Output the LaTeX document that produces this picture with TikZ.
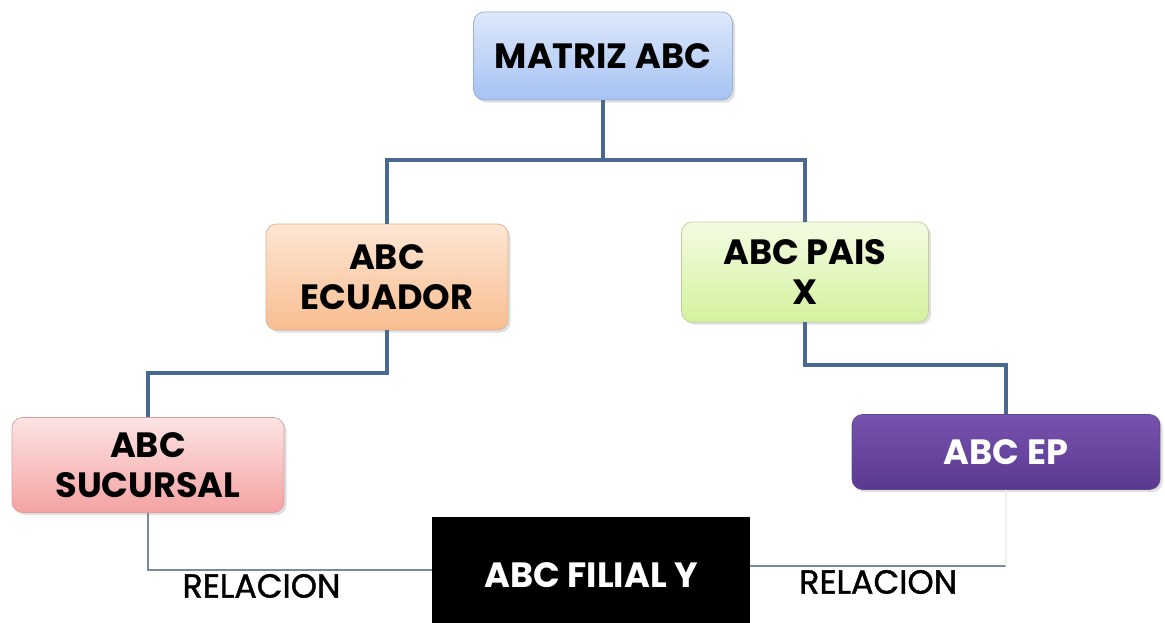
\documentclass[tikz,border=0pt]{standalone}
\usepackage{fontspec}
\setmainfont{Poppins}
\newfontfamily\relfont{Poppins}[FakeBold=1.2]
\usepackage{tikz}
\usetikzlibrary{positioning,shadows}
\definecolor{linkblue}{HTML}{4A6990}
\definecolor{relgray}{HTML}{7A8A99}
\definecolor{matriztop}{HTML}{DDE8FB}
\definecolor{matrizbot}{HTML}{A6C2F3}
\definecolor{ecuatop}{HTML}{FDE6D4}
\definecolor{ecuabot}{HTML}{F8BD90}
\definecolor{paistop}{HTML}{F3FBE2}
\definecolor{paisbot}{HTML}{D4F29E}
\definecolor{sucutop}{HTML}{FDE4E4}
\definecolor{sucubot}{HTML}{F4A2A2}
\definecolor{eptop}{HTML}{7752AE}
\definecolor{epbot}{HTML}{5A3990}

\begin{document}
\begin{tikzpicture}[
  x=0.02cm, y=-0.02cm,
  orgbox/.style={rectangle, rounded corners=6pt, align=center,
    font=\fontsize{20}{23}\selectfont\bfseries, inner sep=2pt,
    drop shadow={opacity=0.25, shadow xshift=1.5pt, shadow yshift=-1.5pt}},
  linkline/.style={draw=linkblue, line width=2.2pt},
  relline/.style={draw=relgray, line width=0.8pt},
  rellabel/.style={font=\fontsize{19}{22}\selectfont\relfont, inner sep=2pt}
]
  \useasboundingbox (0,0) rectangle (1165,622);

  \node[orgbox, draw=matrizbot!70!gray, top color=matriztop, bottom color=matrizbot,
    minimum width=5.18cm, minimum height=1.76cm] (matriz) at (603,56) {MATRIZ ABC};
  \node[orgbox, draw=ecuabot!80!gray, top color=ecuatop, bottom color=ecuabot,
    minimum width=4.84cm, minimum height=2.12cm] (ecuador) at (387,277) {ABC\\ECUADOR};
  \node[orgbox, draw=paisbot!70!gray, top color=paistop, bottom color=paisbot,
    minimum width=4.94cm, minimum height=2.0cm] (pais) at (805,272) {ABC PAIS\\X};
  \node[orgbox, draw=sucubot!80!gray, top color=sucutop, bottom color=sucubot,
    minimum width=5.44cm, minimum height=1.9cm] (sucursal) at (148,465) {ABC\\SUCURSAL};
  \node[orgbox, draw=epbot!80!gray, top color=eptop, bottom color=epbot,
    text=white, minimum width=6.16cm, minimum height=1.5cm] (ep) at (1006,452) {ABC EP};
  \node[rectangle, fill=black, text=white, font=\fontsize{20}{23}\selectfont\bfseries,
    minimum width=6.36cm, minimum height=2.3cm, anchor=north] (filial) at (591,517) {ABC FILIAL Y};

  \draw[linkline] (matriz.south) -- ++(0,60) -| (ecuador.north);
  \draw[linkline] (matriz.south) -- ++(0,60) -| (pais.north);
  \draw[linkline] (ecuador.south) -- ++(0,43) -| (sucursal.north);
  \draw[linkline] (pais.south) -- ++(0,43) -| (ep.north);

  \draw[relline] (sucursal.south) |- node[rellabel, below, pos=0.7] {RELACION}
    ([yshift=0.1cm]filial.west);
  \path ([yshift=0.18cm]filial.east) coordinate (relright);
  \coordinate (relcorner) at (ep.south |- relright);
  \draw[relline] (relright) -- node[rellabel, below] {RELACION} (relcorner);
  \draw[draw=gray!12, line width=0.8pt] (relcorner) -- (ep.south);
\end{tikzpicture}
\end{document}
